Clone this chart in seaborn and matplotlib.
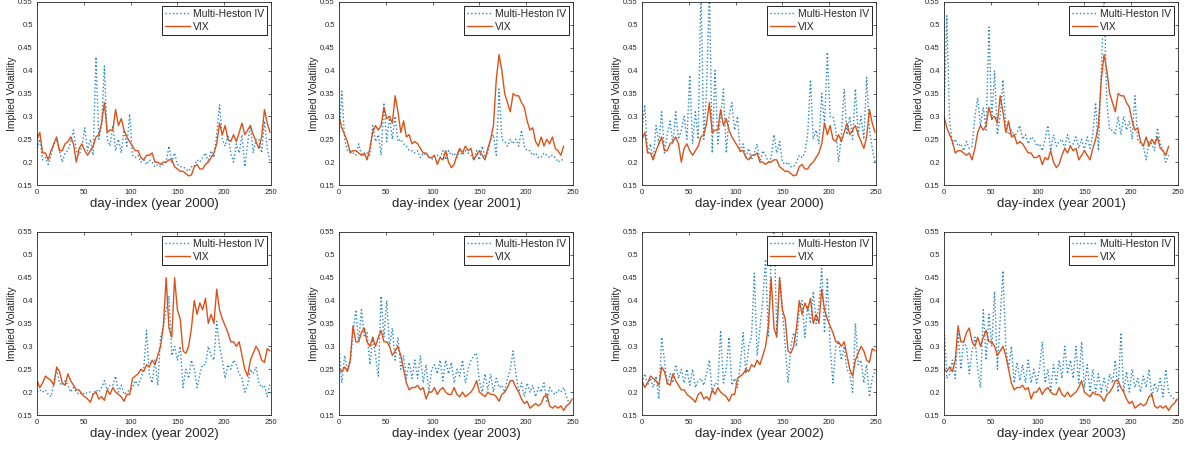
import numpy as np
import matplotlib
matplotlib.use("Agg")
import matplotlib.pyplot as plt
import seaborn as sns

# Trading-day grids (sampled every third day)
days_2000 = np.arange(0, 250, 3)
days_2001 = np.arange(0, 241, 3)
days_2002 = np.arange(0, 250, 3)
days_2003 = np.arange(0, 250, 3)

# VIX level (as a fraction)
vix_2000 = [0.25, 0.265, 0.22, 0.22, 0.205, 0.225, 0.24, 0.255, 0.225, 0.225,
            0.24, 0.245, 0.255, 0.24, 0.2, 0.23, 0.24, 0.225, 0.215, 0.225,
            0.235, 0.255, 0.26, 0.285, 0.33, 0.265, 0.27, 0.27, 0.315, 0.28,
            0.295, 0.27, 0.255, 0.245, 0.235, 0.225, 0.225, 0.21, 0.205, 0.215,
            0.215, 0.22, 0.2, 0.2, 0.195, 0.2, 0.2, 0.205, 0.205, 0.19,
            0.185, 0.18, 0.18, 0.175, 0.17, 0.172, 0.19, 0.195, 0.185, 0.185,
            0.195, 0.2, 0.21, 0.22, 0.24, 0.285, 0.26, 0.28, 0.25, 0.245,
            0.26, 0.245, 0.265, 0.285, 0.26, 0.27, 0.28, 0.26, 0.245, 0.23,
            0.255, 0.315, 0.285, 0.265]
vix_2001 = [0.30, 0.275, 0.26, 0.245, 0.22, 0.225, 0.225, 0.22, 0.215, 0.22,
            0.205, 0.23, 0.265, 0.28, 0.27, 0.28, 0.32, 0.295, 0.3, 0.285,
            0.345, 0.31, 0.265, 0.29, 0.255, 0.26, 0.24, 0.245, 0.24, 0.23,
            0.22, 0.22, 0.21, 0.21, 0.215, 0.195, 0.21, 0.205, 0.225, 0.2,
            0.188, 0.195, 0.215, 0.23, 0.22, 0.235, 0.225, 0.23, 0.205, 0.215,
            0.225, 0.215, 0.205, 0.23, 0.25, 0.28, 0.38, 0.435, 0.4, 0.35,
            0.33, 0.31, 0.35, 0.345, 0.345, 0.33, 0.32, 0.29, 0.27, 0.275,
            0.245, 0.235, 0.255, 0.235, 0.25, 0.24, 0.255, 0.23, 0.225, 0.215,
            0.235]
vix_2002 = [0.225, 0.21, 0.22, 0.235, 0.23, 0.225, 0.215, 0.255, 0.245, 0.22,
            0.215, 0.24, 0.225, 0.215, 0.205, 0.205, 0.195, 0.19, 0.185, 0.178,
            0.195, 0.2, 0.185, 0.19, 0.182, 0.205, 0.195, 0.21, 0.2, 0.195,
            0.19, 0.18, 0.195, 0.195, 0.23, 0.235, 0.24, 0.25, 0.245, 0.26,
            0.255, 0.27, 0.26, 0.28, 0.3, 0.345, 0.45, 0.34, 0.32, 0.45,
            0.38, 0.36, 0.29, 0.285, 0.3, 0.34, 0.4, 0.37, 0.395, 0.38,
            0.405, 0.35, 0.37, 0.35, 0.425, 0.38, 0.36, 0.345, 0.33, 0.31,
            0.31, 0.3, 0.31, 0.28, 0.25, 0.235, 0.27, 0.285, 0.3, 0.29,
            0.27, 0.265, 0.295, 0.29]
vix_2003 = [0.25, 0.245, 0.255, 0.245, 0.27, 0.345, 0.31, 0.31, 0.33, 0.34,
            0.31, 0.3, 0.32, 0.3, 0.32, 0.335, 0.31, 0.31, 0.3, 0.28,
            0.29, 0.3, 0.28, 0.25, 0.22, 0.205, 0.21, 0.21, 0.215, 0.205,
            0.21, 0.185, 0.2, 0.2, 0.21, 0.195, 0.205, 0.21, 0.2, 0.195,
            0.195, 0.21, 0.195, 0.19, 0.2, 0.19, 0.195, 0.2, 0.21, 0.225,
            0.2, 0.195, 0.19, 0.2, 0.195, 0.195, 0.19, 0.18, 0.195, 0.2,
            0.21, 0.225, 0.225, 0.21, 0.2, 0.185, 0.175, 0.18, 0.165, 0.17,
            0.175, 0.17, 0.175, 0.19, 0.195, 0.17, 0.165, 0.17, 0.165, 0.17,
            0.16, 0.17, 0.175, 0.185]

# Multi-Heston implied volatility, first calibration
mh_2000_a = [0.23, 0.25, 0.205, 0.21, 0.195, 0.215, 0.24, 0.25, 0.225, 0.2,
             0.22, 0.225, 0.245, 0.27, 0.225, 0.215, 0.235, 0.275, 0.225, 0.25,
             0.215, 0.43, 0.25, 0.28, 0.41, 0.25, 0.235, 0.28, 0.225, 0.25,
             0.22, 0.27, 0.235, 0.305, 0.215, 0.21, 0.215, 0.2, 0.205, 0.195,
             0.205, 0.2, 0.19, 0.195, 0.19, 0.195, 0.2, 0.235, 0.2, 0.22,
             0.195, 0.19, 0.19, 0.185, 0.18, 0.19, 0.19, 0.205, 0.2, 0.21,
             0.22, 0.2, 0.225, 0.21, 0.26, 0.325, 0.25, 0.235, 0.26, 0.22,
             0.2, 0.24, 0.22, 0.26, 0.19, 0.24, 0.28, 0.22, 0.25, 0.25,
             0.22, 0.29, 0.23, 0.2]
mh_2001_a = [0.25, 0.355, 0.25, 0.225, 0.225, 0.22, 0.215, 0.24, 0.215, 0.215,
             0.22, 0.215, 0.28, 0.245, 0.26, 0.215, 0.33, 0.245, 0.3, 0.25,
             0.3, 0.245, 0.25, 0.24, 0.235, 0.225, 0.225, 0.22, 0.225, 0.21,
             0.22, 0.215, 0.215, 0.205, 0.215, 0.215, 0.21, 0.225, 0.205, 0.225,
             0.215, 0.22, 0.21, 0.225, 0.215, 0.225, 0.22, 0.215, 0.205, 0.225,
             0.205, 0.235, 0.21, 0.22, 0.25, 0.26, 0.215, 0.36, 0.25, 0.245,
             0.235, 0.25, 0.24, 0.25, 0.235, 0.27, 0.235, 0.225, 0.225, 0.215,
             0.22, 0.21, 0.21, 0.22, 0.215, 0.21, 0.215, 0.21, 0.2, 0.205,
             0.205]
mh_2002_a = [0.2, 0.205, 0.2, 0.205, 0.195, 0.19, 0.22, 0.25, 0.22, 0.215,
             0.225, 0.215, 0.2, 0.21, 0.2, 0.195, 0.2, 0.195, 0.2, 0.2,
             0.195, 0.205, 0.2, 0.21, 0.225, 0.205, 0.215, 0.215, 0.235, 0.2,
             0.215, 0.195, 0.2, 0.205, 0.21, 0.225, 0.215, 0.23, 0.25, 0.335,
             0.24, 0.22, 0.27, 0.215, 0.32, 0.34, 0.38, 0.41, 0.28, 0.3,
             0.27, 0.3, 0.21, 0.25, 0.23, 0.27, 0.25, 0.21, 0.24, 0.26,
             0.26, 0.3, 0.28, 0.27, 0.355, 0.3, 0.27, 0.23, 0.26, 0.25,
             0.27, 0.26, 0.24, 0.23, 0.2, 0.215, 0.25, 0.24, 0.255, 0.22,
             0.21, 0.215, 0.19, 0.22]
mh_2003_a = [0.3, 0.22, 0.28, 0.25, 0.265, 0.33, 0.38, 0.31, 0.38, 0.32,
             0.33, 0.26, 0.32, 0.28, 0.235, 0.41, 0.32, 0.4, 0.3, 0.34,
             0.27, 0.32, 0.25, 0.28, 0.23, 0.265, 0.23, 0.27, 0.23, 0.28,
             0.22, 0.26, 0.2, 0.25, 0.26, 0.24, 0.27, 0.225, 0.27, 0.24,
             0.265, 0.22, 0.25, 0.235, 0.27, 0.22, 0.25, 0.27, 0.28, 0.285,
             0.225, 0.2, 0.24, 0.205, 0.24, 0.2, 0.23, 0.21, 0.215, 0.2,
             0.23, 0.25, 0.29, 0.24, 0.2, 0.22, 0.19, 0.22, 0.2, 0.215,
             0.19, 0.21, 0.2, 0.22, 0.18, 0.21, 0.2, 0.195, 0.205, 0.2,
             0.21, 0.19, 0.175, 0.18]

# Multi-Heston implied volatility, second calibration
mh_2000_b = [0.27, 0.325, 0.22, 0.24, 0.205, 0.28, 0.24, 0.31, 0.22, 0.26,
             0.29, 0.24, 0.31, 0.25, 0.27, 0.3, 0.25, 0.39, 0.24, 0.31,
             0.25, 0.58, 0.25, 0.36, 0.58, 0.22, 0.4, 0.24, 0.3, 0.36,
             0.22, 0.3, 0.33, 0.27, 0.3, 0.22, 0.24, 0.21, 0.23, 0.205,
             0.22, 0.24, 0.2, 0.225, 0.215, 0.2, 0.21, 0.26, 0.22, 0.245,
             0.2, 0.195, 0.2, 0.19, 0.19, 0.2, 0.215, 0.21, 0.22, 0.26,
             0.38, 0.25, 0.27, 0.24, 0.35, 0.28, 0.44, 0.3, 0.3, 0.27,
             0.2, 0.26, 0.36, 0.26, 0.3, 0.25, 0.36, 0.26, 0.3, 0.25,
             0.385, 0.27, 0.23, 0.2]
mh_2001_b = [0.3, 0.52, 0.29, 0.24, 0.25, 0.235, 0.24, 0.225, 0.245, 0.23,
             0.235, 0.3, 0.34, 0.28, 0.32, 0.27, 0.495, 0.29, 0.4, 0.26,
             0.3, 0.38, 0.28, 0.26, 0.27, 0.255, 0.265, 0.28, 0.25, 0.26,
             0.24, 0.255, 0.25, 0.235, 0.24, 0.225, 0.25, 0.28, 0.225, 0.26,
             0.235, 0.245, 0.25, 0.23, 0.26, 0.235, 0.24, 0.255, 0.23, 0.25,
             0.225, 0.255, 0.23, 0.26, 0.33, 0.225, 0.4, 0.56, 0.33, 0.27,
             0.27, 0.26, 0.3, 0.26, 0.3, 0.27, 0.29, 0.25, 0.345, 0.25,
             0.24, 0.235, 0.205, 0.245, 0.24, 0.225, 0.275, 0.24, 0.225, 0.2,
             0.215]
mh_2002_b = [0.22, 0.24, 0.215, 0.23, 0.21, 0.235, 0.185, 0.32, 0.27, 0.215,
             0.24, 0.22, 0.26, 0.23, 0.25, 0.22, 0.25, 0.215, 0.25, 0.21,
             0.225, 0.23, 0.215, 0.24, 0.27, 0.2, 0.22, 0.215, 0.335, 0.22,
             0.25, 0.32, 0.215, 0.23, 0.21, 0.26, 0.33, 0.24, 0.3, 0.32,
             0.46, 0.28, 0.34, 0.4, 0.49, 0.32, 0.5, 0.56, 0.33, 0.45,
             0.38, 0.3, 0.22, 0.3, 0.33, 0.3, 0.38, 0.4, 0.32, 0.39,
             0.35, 0.42, 0.35, 0.39, 0.47, 0.33, 0.45, 0.3, 0.22, 0.3,
             0.31, 0.27, 0.3, 0.25, 0.24, 0.2, 0.35, 0.26, 0.27, 0.22,
             0.26, 0.19, 0.23, 0.245]
mh_2003_b = [0.35, 0.23, 0.24, 0.27, 0.23, 0.33, 0.25, 0.31, 0.3, 0.24,
             0.29, 0.32, 0.25, 0.21, 0.38, 0.27, 0.37, 0.3, 0.42, 0.25,
             0.36, 0.465, 0.3, 0.25, 0.3, 0.22, 0.265, 0.225, 0.26, 0.22,
             0.27, 0.22, 0.25, 0.22, 0.25, 0.31, 0.22, 0.25, 0.2, 0.26,
             0.22, 0.27, 0.23, 0.3, 0.24, 0.27, 0.23, 0.3, 0.22, 0.31,
             0.21, 0.26, 0.2, 0.25, 0.2, 0.24, 0.2, 0.23, 0.2, 0.24,
             0.22, 0.27, 0.2, 0.33, 0.2, 0.245, 0.2, 0.25, 0.21, 0.23,
             0.2, 0.235, 0.21, 0.25, 0.19, 0.22, 0.2, 0.23, 0.19, 0.25,
             0.2, 0.19, 0.185, 0.18]

x_ticks = [0, 50, 100, 150, 200, 250]
y_ticks = [0.15, 0.2, 0.25, 0.3, 0.35, 0.4, 0.45, 0.5, 0.55]

BLUE = "#0072BD"
ORANGE = "#D95319"
AXIS_GRAY = "#262626"

sns.set_style("white")
plt.rcParams["font.family"] = ["Liberation Sans", "DejaVu Sans"]

W, H = 1190, 449
fig = plt.figure(figsize=(W / 100, H / 100), dpi=100)

panels = [
    (37, 2, days_2000, mh_2000_a, vix_2000, "2000"),
    (339, 2, days_2001, mh_2001_a, vix_2001, "2001"),
    (642, 2, days_2000, mh_2000_b, vix_2000, "2000"),
    (944, 2, days_2001, mh_2001_b, vix_2001, "2001"),
    (37, 232, days_2002, mh_2002_a, vix_2002, "2002"),
    (339, 232, days_2003, mh_2003_a, vix_2003, "2003"),
    (642, 232, days_2002, mh_2002_b, vix_2002, "2002"),
    (944, 232, days_2003, mh_2003_b, vix_2003, "2003"),
]
aw, ah = 234, 183

for left, top, days, mh, vix, year in panels:
    assert len(days) == len(mh) == len(vix), (year, len(days), len(mh), len(vix))
    ax = fig.add_axes([left / W, 1 - (top + ah) / H, aw / W, ah / H])
    sns.lineplot(x=days, y=mh, ax=ax, color=BLUE, linestyle=":",
                 linewidth=1.0, alpha=0.85, label="Multi-Heston IV")
    sns.lineplot(x=days, y=vix, ax=ax, color=ORANGE, linestyle="-",
                 linewidth=1.0, label="VIX")
    ax.set_xlim(0, 250)
    ax.set_ylim(0.15, 0.55)
    ax.set_xticks(x_ticks)
    ax.set_xticklabels([f"{t:g}" for t in x_ticks])
    ax.set_yticks(y_ticks)
    ax.set_yticklabels([f"{t:g}" for t in y_ticks])
    ax.tick_params(direction="in", length=2.5, width=0.5, labelsize=5.5,
                   colors=AXIS_GRAY, top=True, right=True, pad=3)
    for sp in ax.spines.values():
        sp.set_linewidth(0.6)
        sp.set_color(AXIS_GRAY)
        sp.set_visible(True)
    ax.set_xlabel(f"day-index (year {year})", fontsize=9.5, color=AXIS_GRAY,
                  labelpad=1.5)
    ax.set_ylabel("Implied Volatility", fontsize=7.5, color=AXIS_GRAY,
                  labelpad=1)
    leg = ax.legend(loc="upper right", fontsize=7.5, frameon=True,
                    fancybox=False, framealpha=1, edgecolor="black",
                    handlelength=2.4, handletextpad=0.3, borderpad=0.3,
                    labelspacing=0.3, borderaxespad=0.35)
    leg.get_frame().set_linewidth(0.6)

fig.savefig("out.png", dpi=100)
